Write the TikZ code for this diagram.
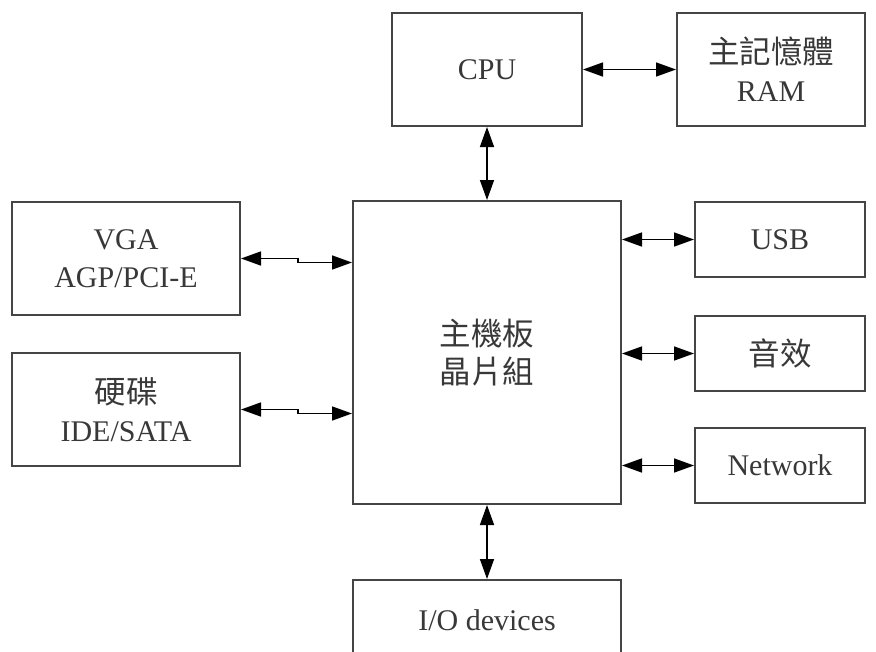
\documentclass[tikz,border=0pt]{standalone}
\usepackage{fontspec}
\setmainfont{Liberation Serif}
\newfontfamily\cjk[Scale=1.05]{Noto Sans CJK TC}
\usetikzlibrary{arrows.meta}
\definecolor{boxline}{HTML}{454545}
\definecolor{txt}{HTML}{383838}
\tikzset{
  blk/.style={draw=boxline, line width=2pt, rectangle, inner sep=0pt, align=center,
    text=txt, font=\fontsize{30}{38}\selectfont},
  biarrow/.style={line width=1.5pt, {Triangle[length=20pt,width=14pt]}-{Triangle[length=20pt,width=14pt]}},
}
\begin{document}
\begin{tikzpicture}[x=1pt,y=-1pt]
\useasboundingbox (0,0) rectangle (876,651);
\clip (0,0) rectangle (876,651);
\node[blk, minimum width=190pt, minimum height=113pt] (cpu) at (487,69.5) {CPU};
\node[blk, minimum width=188pt, minimum height=113pt] (ram) at (771,69.5) {{\cjk 主記憶體}\\RAM};
\node[blk, minimum width=268pt, minimum height=303pt] (chip) at (487,352.5) {{\cjk 主機板}\\{\cjk 晶片組}};
\node[blk, minimum width=228pt, minimum height=113pt] (vga) at (126,258.5) {VGA\\AGP/PCI-E};
\node[blk, minimum width=228pt, minimum height=113pt] (hdd) at (126,409.5) {{\cjk 硬碟}\\IDE/SATA};
\node[blk, minimum width=170pt, minimum height=75pt] (usb) at (780,239.5) {USB};
\node[blk, minimum width=170pt, minimum height=75pt] (snd) at (780,353.5) {{\cjk 音效}};
\node[blk, minimum width=170pt, minimum height=75pt] (net) at (780,465.5) {Network};
\node[blk, minimum width=268pt, minimum height=80pt] (io) at (487,620) {I/O devices};
\draw[biarrow] (cpu.east) -- (ram.west);
\draw[biarrow] (cpu.south) -- (chip.north);
\draw[biarrow] (chip.south) -- (io.north);
\draw[biarrow] (vga.east) -- ++(57,0) -- ++(0,4) -- (chip.west |- 0,262.5);
\draw[biarrow] (hdd.east) -- ++(57,0) -- ++(0,4) -- (chip.west |- 0,413.5);
\draw[biarrow] (chip.east |- usb.west) -- (usb.west);
\draw[biarrow] (chip.east |- snd.west) -- (snd.west);
\draw[biarrow] (chip.east |- net.west) -- (net.west);
\end{tikzpicture}
\end{document}
